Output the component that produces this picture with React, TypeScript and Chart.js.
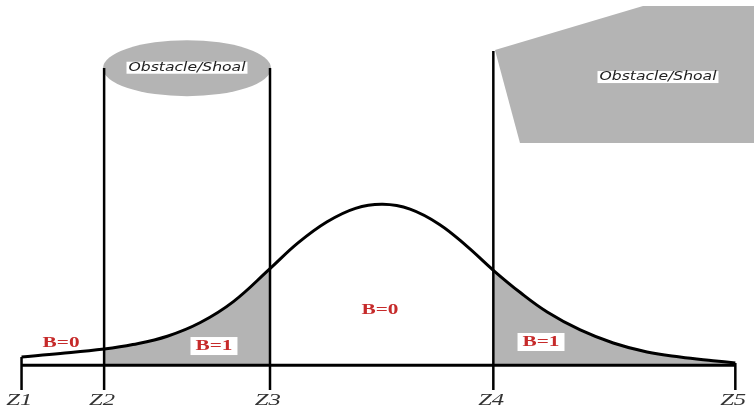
import { useEffect, useRef } from 'react';
import { Chart, registerables } from 'chart.js';

Chart.register(...registerables);

const W = 754;
const H = 407;

// Channel cross-section positions along the transect
const zNames = ['Z1', 'Z2', 'Z3', 'Z4', 'Z5'];
const zPositions = [0, 11.5, 34.6, 65.7, 99.4];

// Vessel position probability curve (relative density)
const curveX = [0, 5.4, 11.5, 15.5, 20.3, 24.9, 29.5, 34.6, 38.5, 42.5, 46.5, 50.3, 54.1, 58.2, 62.0, 65.7, 69.5, 73.2, 77.8, 82.4, 87.1, 91.7, 96.3, 99.4];
const curveY = [0.051, 0.072, 0.1, 0.128, 0.18, 0.265, 0.395, 0.6, 0.76, 0.89, 0.975, 1.0, 0.97, 0.875, 0.74, 0.59, 0.45, 0.331, 0.219, 0.138, 0.082, 0.051, 0.028, 0.014];

// Intervals where the vessel would ground (B=1)
const groundingFrom = [11.5, 65.7];
const groundingTo = [34.6, 99.4];

// Heights of the boundary lines above the seabed line
const zLineTops = [0.051, 1.847, 1.847, 1.953, 0.014];
const tickBottom = -0.154;
const zLabelLevel = -0.22;
const zLabelShift = -0.3;

// Obstacle outlines
const ellipseCenterX = 23.04;
const ellipseCenterY = 1.846;
const ellipseRadiusX = 11.7;
const ellipseRadiusY = 0.174;
const polygonX = [65.93, 86.54, 102.6, 102.6, 69.41];
const polygonY = [1.959, 2.233, 2.233, 1.381, 1.381];

const obstacleText = ['Obstacle/Shoal', 'Obstacle/Shoal'];
const obstacleX = [23.04, 88.63];
const obstacleY = [1.849, 1.791];

// Grounding indicator labels
const bText = ['B=0', 'B=0', 'B=1', 'B=1'];
const bX = [5.5, 49.92, 26.8, 72.34];
const bY = [0.135, 0.343, 0.119, 0.144];
const bBoxed = [false, false, true, true];

const GREY = '#b4b4b4';

function pts(xs: number[], ys: number[]) {
  return xs.map((x, i) => ({ x, y: ys[i] }));
}

function curveSegment(from: number, to: number) {
  return curveX
    .map((x, i) => ({ x, y: curveY[i] }))
    .filter((p) => p.x >= from - 1e-9 && p.x <= to + 1e-9);
}

function drawText(
  ctx: CanvasRenderingContext2D,
  text: string,
  x: number,
  y: number,
  font: string,
  color: string,
  sx: number,
  box?: { padX: number; h: number }
) {
  ctx.save();
  ctx.font = font;
  if (box) {
    const w = ctx.measureText(text).width * sx;
    ctx.fillStyle = '#ffffff';
    ctx.fillRect(x - w / 2 - box.padX, y - box.h / 2, w + box.padX * 2, box.h);
  }
  ctx.translate(x, y);
  ctx.scale(sx, 1);
  ctx.fillStyle = color;
  ctx.textAlign = 'center';
  ctx.textBaseline = 'middle';
  ctx.fillText(text, 0, 0);
  ctx.restore();
}

const diagramPlugin = {
  id: 'diagram',
  beforeDatasetsDraw(chart: any) {
    const { ctx } = chart;
    const xs = chart.scales.x;
    const ys = chart.scales.y;
    ctx.save();
    ctx.fillStyle = GREY;
    // elliptical shoal
    const cx = xs.getPixelForValue(ellipseCenterX);
    const cy = ys.getPixelForValue(ellipseCenterY);
    const rx = Math.abs(xs.getPixelForValue(ellipseCenterX + ellipseRadiusX) - cx);
    const ry = Math.abs(ys.getPixelForValue(ellipseCenterY + ellipseRadiusY) - cy);
    ctx.beginPath();
    ctx.ellipse(cx, cy, rx, ry, 0, 0, Math.PI * 2);
    ctx.fill();
    // polygonal obstacle
    ctx.beginPath();
    polygonX.forEach((x, i) => {
      const px = xs.getPixelForValue(x);
      const py = ys.getPixelForValue(polygonY[i]);
      if (i === 0) ctx.moveTo(px, py);
      else ctx.lineTo(px, py);
    });
    ctx.closePath();
    ctx.fill();
    ctx.restore();
  },
  afterDatasetsDraw(chart: any) {
    const { ctx } = chart;
    const xs = chart.scales.x;
    const ys = chart.scales.y;
    obstacleText.forEach((t, i) => {
      drawText(
        ctx,
        t,
        xs.getPixelForValue(obstacleX[i]),
        ys.getPixelForValue(obstacleY[i]),
        'italic 13px "DejaVu Sans"',
        '#222222',
        1.2,
        { padX: 2, h: 12 }
      );
    });
    bText.forEach((t, i) => {
      drawText(
        ctx,
        t,
        xs.getPixelForValue(bX[i]),
        ys.getPixelForValue(bY[i]),
        'bold 14px "Liberation Serif"',
        '#c62a2a',
        1.52,
        bBoxed[i] ? { padX: 5, h: 18 } : undefined
      );
    });
    zNames.forEach((t, i) => {
      drawText(
        ctx,
        t,
        xs.getPixelForValue(zPositions[i] + zLabelShift),
        ys.getPixelForValue(zLabelLevel),
        'italic 17px "Liberation Serif"',
        '#333333',
        1.45
      );
    });
  },
};

export default function App() {
  const ref = useRef<HTMLCanvasElement>(null);

  useEffect(() => {
    const canvas = ref.current;
    if (!canvas) return;

    const lineStyle = (width: number) => ({
      borderColor: '#000000',
      borderWidth: width,
      pointRadius: 0,
      fill: false,
      tension: 0,
    });

    const datasets: any[] = [];

    // shaded grounding areas under the curve
    groundingFrom.forEach((from, i) => {
      datasets.push({
        data: curveSegment(from, groundingTo[i]),
        borderWidth: 0,
        borderColor: 'rgba(0,0,0,0)',
        backgroundColor: GREY,
        pointRadius: 0,
        fill: 'origin',
        tension: 0.4,
        order: 10,
      });
    });

    // seabed / reference line
    datasets.push({
      data: [
        { x: zPositions[0], y: 0 },
        { x: zPositions[zPositions.length - 1], y: 0 },
      ],
      ...lineStyle(3),
      order: 5,
    });

    // boundary lines at each Z position
    zPositions.forEach((z, i) => {
      datasets.push({
        data: [
          { x: z, y: zLineTops[i] },
          { x: z, y: tickBottom },
        ],
        ...lineStyle(2.5),
        order: 4,
      });
    });

    // probability curve
    datasets.push({
      data: pts(curveX, curveY),
      borderColor: '#000000',
      borderWidth: 3,
      pointRadius: 0,
      fill: false,
      tension: 0.4,
      order: 1,
    });

    const chart = new Chart(canvas, {
      type: 'line',
      data: { datasets },
      options: {
        animation: false,
        responsive: false,
        devicePixelRatio: 1,
        events: [],
        layout: { padding: 0 },
        plugins: {
          legend: { display: false },
          tooltip: { enabled: false },
        },
        scales: {
          x: { type: 'linear', min: -3, max: 102, display: false },
          y: { type: 'linear', min: -0.26, max: 2.27, display: false },
        },
      },
      plugins: [diagramPlugin],
    } as any);

    return () => chart.destroy();
  }, []);

  return (
    <div style={{ position: 'fixed', left: 0, top: 0, width: W, height: H, background: '#ffffff' }}>
      <canvas ref={ref} width={W} height={H} style={{ display: 'block', width: W, height: H }} />
    </div>
  );
}
